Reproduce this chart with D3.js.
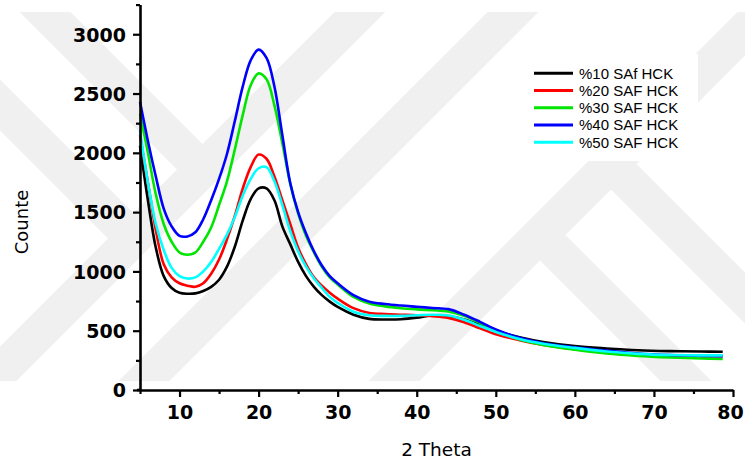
<!DOCTYPE html>
<html>
<head>
<meta charset="utf-8">
<script src="https://cdn.jsdelivr.net/npm/d3@7/dist/d3.min.js"></script>
<style>
  html, body { margin: 0; padding: 0; background: #fff; }
  svg { display: block; }
</style>
</head>
<body>
<svg id="chart" width="745" height="468"></svg>
<script>
// ---- data ----
const xValues = [5,6,7,8,9,10,11,12,13,14,15,16,17,18,19,20,21,22,23,24,25,26,27,28,29,30,32,34,36,38,40,42,44,46,48,50,53,56,60,64,68,72,76,78.7];
const s10 = [2060,1600,1200,960,860,820,812,815,835,870,930,1040,1210,1430,1610,1700,1700,1600,1380,1230,1080,960,870,800,745,700,635,600,595,597,610,630,622,595,548,500,445,405,370,350,335,328,325,322];
const s20 = [2150,1750,1350,1060,950,900,880,870,900,980,1100,1270,1470,1700,1880,1985,1950,1800,1600,1400,1200,1060,950,880,820,770,690,650,640,635,630,622,608,572,520,470,420,380,345,318,298,288,286,286];
const s30 = [2330,2000,1650,1400,1250,1160,1140,1160,1250,1370,1560,1760,2030,2320,2570,2670,2620,2400,2080,1740,1490,1300,1160,1040,950,890,785,730,705,690,680,672,662,625,565,500,425,380,340,308,288,275,266,262];
const s40 = [2430,2100,1800,1530,1380,1300,1295,1330,1440,1600,1780,1990,2270,2560,2780,2870,2800,2560,2150,1745,1500,1320,1170,1050,960,900,800,745,725,712,702,692,682,635,575,510,440,395,360,332,308,295,288,285];
const s50 = [2190,1750,1400,1180,1030,960,940,950,1000,1080,1190,1310,1460,1640,1780,1870,1880,1760,1560,1340,1170,1040,940,860,785,735,660,630,625,625,630,635,628,592,540,490,430,390,355,325,305,295,292,292];
const seriesNames = ["%10 SAf HCK","%20 SAF HCK","%30 SAF HCK","%40 SAF HCK","%50 SAF HCK"];
const seriesValues = [s10, s20, s30, s40, s50];
const seriesColors = ["#000000","#ff0000","#00e600","#0000ff","#00ffff"];
const xTicks = [10,20,30,40,50,60,70,80];
const xMinorTicks = [5,15,25,35,45,55,65,75];
const yTicks = [0,500,1000,1500,2000,2500,3000];
const yMinorTicks = [250,750,1250,1750,2250,2750,3250];
const xTitle = "2 Theta";
const yTitle = "Counte";

// ---- layout ----
const svg = d3.select("#chart");
const plotL = 140, plotR = 733, plotT = 4.6, plotB = 390;
const x = d3.scaleLinear().domain([5, 80]).range([plotL, plotR]);
const y = d3.scaleLinear().domain([0, 3250]).range([plotB, plotT]);

// ---- faint background watermark (decorative) ----
svg.append("defs").append("clipPath").attr("id", "wmclip")
  .append("rect").attr("x", 0).attr("y", 12).attr("width", 745).attr("height", 369);
const wm = svg.append("g").attr("clip-path", "url(#wmclip)");
const wmPaths = [
  [[-20,392],[392,-20]],
  [[-20,-53],[202,169]],
  [[-20,85],[134,239]],
  [[-20,545],[545,-20]],
  [[375,400],[795,-20]],
  [[540,235],[730,425]],
  [[611,164],[800,353]]
];
wm.selectAll("path").data(wmPaths).join("path")
  .attr("d", d => d3.line()(d))
  .attr("fill", "none").attr("stroke", "#f0f0f0").attr("stroke-width", 36)
  .attr("stroke-linecap", "butt");

// ---- curves ----
const line = d3.line().x((d, i) => x(xValues[i])).y(d => y(d)).curve(d3.curveCatmullRom.alpha(0.5));
svg.append("g").selectAll("path").data(seriesValues).join("path")
  .attr("d", d => line(d))
  .attr("fill", "none")
  .attr("stroke", (d, i) => seriesColors[i])
  .attr("stroke-width", 2.6)
  .attr("stroke-linejoin", "round");

// ---- axes ----
const tickFont = "'DejaVu Sans', sans-serif";
const fmt = d3.format("d");
const xAxis = svg.append("g").attr("transform", `translate(0,${plotB})`)
  .call(d3.axisBottom(x).tickValues(xTicks).tickFormat(fmt).tickSize(7).tickSizeOuter(0).tickPadding(6));
svg.append("g").attr("transform", `translate(0,${plotB})`)
  .call(d3.axisBottom(x).tickValues(xMinorTicks).tickSize(4).tickSizeOuter(0).tickFormat(""))
  .select(".domain").remove();
const yAxis = svg.append("g").attr("transform", `translate(${plotL},0)`)
  .call(d3.axisLeft(y).tickValues(yTicks).tickFormat(fmt).tickSize(7).tickSizeOuter(0).tickPadding(7));
svg.append("g").attr("transform", `translate(${plotL},0)`)
  .call(d3.axisLeft(y).tickValues(yMinorTicks).tickSize(4).tickSizeOuter(0).tickFormat(""))
  .select(".domain").remove();

svg.selectAll(".domain").attr("stroke", "#000").attr("stroke-width", 2.6);
svg.selectAll(".tick line").attr("stroke", "#000").attr("stroke-width", 2.2);
svg.selectAll(".tick text").attr("font-family", tickFont).attr("font-weight", "bold")
  .attr("font-size", 19).attr("fill", "#000");
xAxis.selectAll(".tick text").attr("dy", "0.85em")
  .attr("dx", d => d === 80 ? -3 : 0);
yAxis.selectAll(".tick text").attr("dy", "0.36em");

svg.append("line").attr("x1", plotL - 3).attr("x2", plotL).attr("y1", plotB).attr("y2", plotB)
  .attr("stroke", "#000").attr("stroke-width", 2.6);

// ---- titles ----
svg.append("text").attr("x", (plotL + plotR) / 2).attr("y", 456)
  .attr("text-anchor", "middle").attr("font-family", tickFont).attr("font-size", 18.5)
  .attr("fill", "#000").text(xTitle);
svg.append("text").attr("transform", "translate(28,222) rotate(-90)")
  .attr("text-anchor", "middle").attr("font-family", tickFont).attr("font-size", 18)
  .attr("fill", "#000").text(yTitle);

// ---- legend ----
const lg = svg.append("g");
lg.append("rect").attr("x", 515).attr("y", 54).attr("width", 183).attr("height", 107).attr("fill", "#fff");
const rows = lg.selectAll("g.row").data(seriesNames).join("g").attr("class", "row")
  .attr("transform", (d, i) => `translate(0,${73.3 + i * 17.25})`);
rows.append("line").attr("x1", 534).attr("x2", 573).attr("y1", 0).attr("y2", 0)
  .attr("stroke", (d, i) => seriesColors[i]).attr("stroke-width", 3);
rows.append("text").attr("x", 579).attr("y", 0).attr("dy", "0.36em")
  .attr("font-family", "'Liberation Sans', Arial, sans-serif").attr("font-size", 15)
  .attr("fill", "#000").text(d => d);
</script>
</body>
</html>
